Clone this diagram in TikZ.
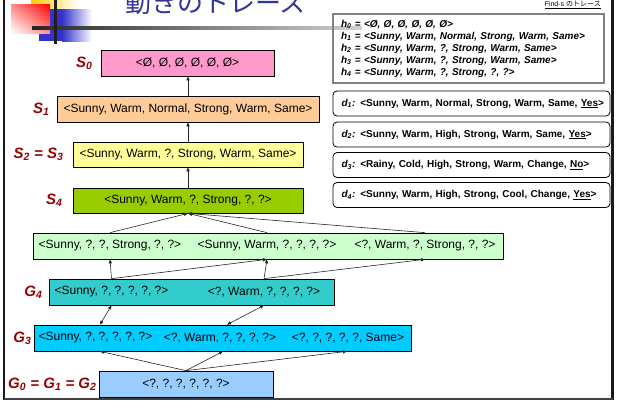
\documentclass[tikz,border=0pt]{standalone}
\usepackage{fontspec}
\setmainfont{Liberation Sans}
\newfontfamily\cjk{Noto Sans CJK JP}
\usetikzlibrary{arrows.meta,calc,shadings}
\definecolor{spink}{HTML}{FF99CC}
\definecolor{speach}{HTML}{FFCC99}
\definecolor{syellow}{HTML}{FFFF99}
\definecolor{sgreen}{HTML}{99CC00}
\definecolor{glgreen}{HTML}{CCFFCC}
\definecolor{gteal}{HTML}{33CCCC}
\definecolor{gcyan}{HTML}{00CCFF}
\definecolor{gblue}{HTML}{99CCFF}
\definecolor{lblred}{HTML}{990000}
\definecolor{titleblue}{HTML}{333399}
\definecolor{logoblue}{HTML}{3333CC}
\definecolor{logoyellow}{HTML}{FFCC00}
\begin{document}
\begin{tikzpicture}[x=1pt,y=-1pt,
  sbox/.style={draw=black,line width=0.7pt,minimum height=26pt,inner sep=0pt,font=\fontsize{12}{13}\selectfont},
  gtxt/.style={inner sep=0pt,font=\fontsize{12}{13}\selectfont},
  lbl/.style={anchor=east,text=lblred,font=\fontsize{15}{17}\selectfont\bfseries\itshape,inner sep=0pt},
  arr/.style={-{Triangle[length=4pt,width=3.2pt]},line width=0.6pt,draw=black!85},
  darr/.style={{Triangle[length=4pt,width=3.2pt]}-{Triangle[length=4pt,width=3.2pt]},line width=0.6pt,draw=black!85},
  dbox/.style={draw=black,line width=0.8pt,rounded corners=4pt,minimum width=277pt,minimum height=25pt,text width=268pt,align=left,inner xsep=4.5pt,inner ysep=0pt,font=\fontsize{10}{12}\selectfont\bfseries},
  hbox/.style={draw=black!50,line width=1.2pt,minimum width=271pt,minimum height=69pt,text width=255pt,align=left,inner xsep=8pt,inner ysep=0pt,font=\fontsize{10}{12}\selectfont\bfseries\itshape}
]
\useasboundingbox (0,0) rectangle (621,400);
\clip (0,0) rectangle (621,400);

% logo
\shade[left color=logoyellow,right color=white] (31,-10) rectangle (78,9);
\fill[logoblue] (39,9) rectangle (62,41);
\shade[left color=logoblue,right color=white] (62,9) rectangle (92,41);
\shade[upper left=red!45!white,upper right=red,lower left=white,lower right=red!45!white] (11,4) rectangle (50,33);
\shade[left color=black!85,right color=black!18] (32,26) rectangle (362,29);
\fill[black!88] (54,0) rectangle (57,44);

% title
\node[anchor=base,text=titleblue,font=\cjk\fontsize{26}{30}\selectfont,inner sep=0pt] (title) at (215.5,12) {動きのトレース};

% frame
\draw[line width=2pt,black!90] (3.7,0) -- (3.7,400);
\draw[line width=3pt,black!90] (612.5,0) -- (612.5,400);
\draw[line width=2pt,black!75] (3.7,399) -- (612.5,399);

% S boxes
\node[sbox,fill=spink,minimum width=173pt] (s0) at (187.5,63) {<Ø, Ø, Ø, Ø, Ø, Ø>};
\node[sbox,fill=speach,minimum width=262pt] (s1) at (188,109) {<Sunny, Warm, Normal, Strong, Warm, Same>};
\node[sbox,fill=syellow,minimum width=230pt,minimum height=25pt] (s2) at (188,154.5) {<Sunny, Warm, ?, Strong, Warm, Same>};
\node[sbox,fill=sgreen,minimum width=230pt,minimum height=25pt] (s4) at (188,200.5) {<Sunny, Warm, ?, Strong, ?, ?>};

% G boxes
\node[sbox,fill=glgreen,minimum width=470pt] (gl) at (268,246) {};
\node[gtxt] (gla) at (110,246) {<Sunny, ?, ?, Strong, ?, ?>};
\node[gtxt] (glb) at (267,246) {<Sunny, Warm, ?, ?, ?, ?>};
\node[gtxt] (glc) at (425,246) {<?, Warm, ?, Strong, ?, ?>};

\node[sbox,fill=gteal,minimum width=285pt] (g4) at (191.5,292) {};
\node[gtxt] (g4a) at (111.5,292) {<Sunny, ?, ?, ?, ?, ?>};
\node[gtxt] (g4b) at (264,292) {<?, Warm, ?, ?, ?, ?>};

\node[sbox,fill=gcyan,minimum width=377pt] (g3) at (222.5,338) {};
\node[gtxt] (g3a) at (95.5,338) {<Sunny, ?, ?, ?, ?, ?>};
\node[gtxt] (g3b) at (220,338) {<?, Warm, ?, ?, ?, ?>};
\node[gtxt] (g3c) at (348,338) {<?, ?, ?, ?, ?, Same>};

\node[sbox,fill=gblue,minimum width=174pt] (g0) at (186,384) {<?, ?, ?, ?, ?, ?>};

% labels
\node[lbl] (ls0) at ([xshift=-8pt]s0.west) {S\textsubscript{0}};
\node[lbl] (ls1) at ([xshift=-7pt]s1.west) {S\textsubscript{1}};
\node[lbl] (ls2) at ([xshift=-9pt]s2.west) {S\textsubscript{2} = S\textsubscript{3}};
\node[lbl] (ls4) at ([xshift=-10pt]s4.west) {S\textsubscript{4}};
\node[lbl] (lg4) at ([xshift=-6pt]g4.west) {G\textsubscript{4}};
\node[lbl] (lg3) at ([xshift=-2pt]g3.west) {G\textsubscript{3}};
\node[lbl] (lg0) at ([xshift=-2pt]g0.west) {G\textsubscript{0} = G\textsubscript{1} = G\textsubscript{2}};

% arrows S chain
\draw[arr] (s1.north) -- (s1.north |- s0.south);
\draw[arr] (s2.north) -- (s2.north |- s1.south);
\draw[arr] (s4.north) -- (s4.north |- s2.south);

% GL -> S4
\draw[arr] (gla |- gl.north) -- (s4.south);
\draw[arr] (glb |- gl.north) -- (s4.south);
\draw[arr] (glc |- gl.north) -- (s4.south);

% G4 -> GL
\draw[arr] (g4a |- g4.north) -- (gla |- gl.south);
\draw[arr] (g4a |- g4.north) -- (glb |- gl.south);
\draw[arr] (g4b |- g4.north) -- (glb |- gl.south);
\draw[arr] (g4b |- g4.north) -- (glc |- gl.south);

% G4 <-> G3
\coordinate (g3ta) at ($(g3a |- g3.north)+(4.5,0)$);
\coordinate (g3tb) at ($(g3b |- g3.north)+(7,0)$);
\draw[darr] (g4a |- g4.south) -- (g3ta);
\draw[darr] (g4b |- g4.south) -- (g3tb);

% G0 -> G3
\coordinate (g3ba) at ($(g3a |- g3.south)+(4.5,0)$);
\coordinate (g3bb) at ($(g3b |- g3.south)+(3,0)$);
\coordinate (g3bc) at ($(g3c |- g3.south)+(-1,0)$);
\draw[arr] (g0.north) -- (g3ba);
\draw[arr] (g0.north) -- (g3bb);
\draw[arr] (g0.north) -- (g3bc);

% right panel
\node[anchor=east,font=\fontsize{7}{8}\selectfont,inner sep=0pt] (fs) at (601,5) {\underline{Find-s {\cjk のトレース}}};
\node[hbox] (hb) at (468.5,48.5) {h\textsubscript{0} = <Ø, Ø, Ø, Ø, Ø, Ø>\\
h\textsubscript{1} = <Sunny, Warm, Normal, Strong, Warm, Same>\\
h\textsubscript{2} = <Sunny, Warm, ?, Strong, Warm, Same>\\
h\textsubscript{3} = <Sunny, Warm, ?, Strong, Warm, Same>\\
h\textsubscript{4} = <Sunny, Warm, ?, Strong, ?, ?>};

\node[dbox] (d1) at (471.5,103.5) {\mbox{\hspace*{4pt}\textit{d\textsubscript{1}:} <Sunny, Warm, Normal, Strong, Warm, Same, \underline{Yes}>}};
\node[dbox] (d2) at (471.5,134.5) {\mbox{\hspace*{4pt}\textit{d\textsubscript{2}:} <Sunny, Warm, High, Strong, Warm, Same, \underline{Yes}>}};
\node[dbox] (d3) at (471.5,165) {\mbox{\hspace*{4pt}\textit{d\textsubscript{3}:} <Rainy, Cold, High, Strong, Warm, Change, \underline{No}>}};
\node[dbox] (d4) at (471.5,195) {\mbox{\hspace*{4pt}\textit{d\textsubscript{4}:} <Sunny, Warm, High, Strong, Cool, Change, \underline{Yes}>}};
\end{tikzpicture}
\end{document}
